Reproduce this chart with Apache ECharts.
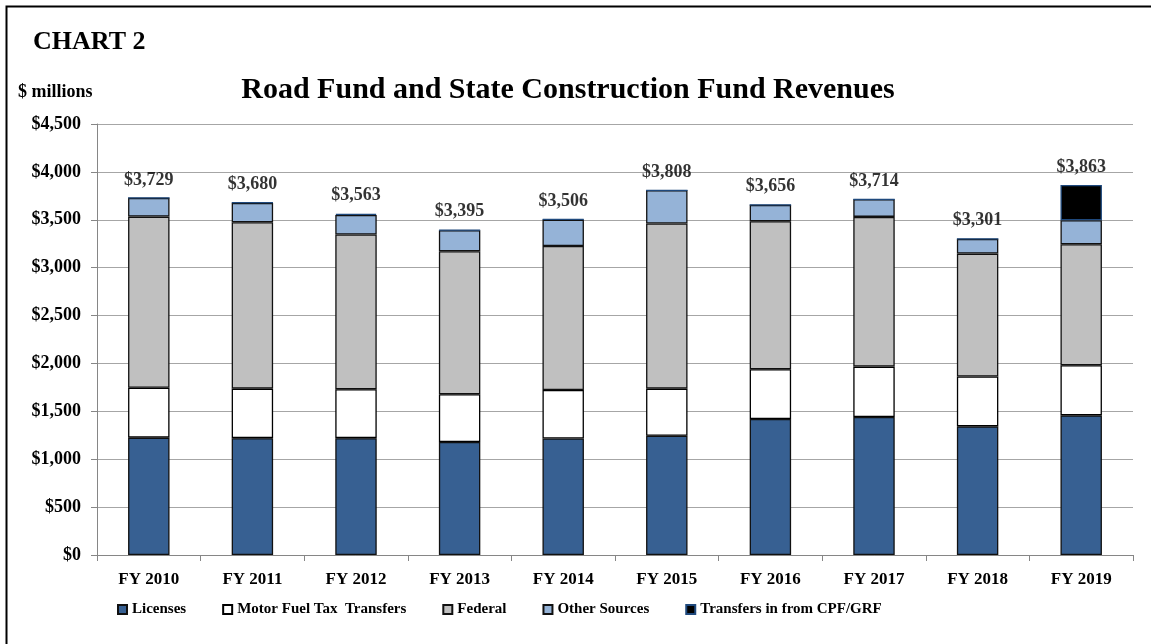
<!DOCTYPE html>
<html>
<head>
<meta charset="utf-8">
<script src="https://cdn.jsdelivr.net/npm/echarts@6/dist/echarts.min.js"></script>
<style>
  html, body { margin: 0; padding: 0; background: #fff; }
  #main { width: 1151px; height: 644px; }
</style>
</head>
<body>
<div id="main"></div>
<script>
// 数据 ($ millions)
var years = ['FY 2010', 'FY 2011', 'FY 2012', 'FY 2013', 'FY 2014', 'FY 2015', 'FY 2016', 'FY 2017', 'FY 2018', 'FY 2019'];
var licenses = [1225, 1220, 1220, 1180, 1217, 1245, 1420, 1441, 1343, 1458];
var motorFuel = [522, 517, 510, 498, 506, 492, 519, 526, 520, 523];
var federal = [1786, 1737, 1616, 1493, 1503, 1724, 1546, 1563, 1284, 1263];
var otherSources = [196, 203, 205, 220, 276, 347, 171, 184, 154, 251];
var transfersCpf = [0, 3, 12, 4, 4, 0, 0, 0, 0, 368];
var totals = [3729, 3680, 3563, 3395, 3506, 3808, 3656, 3714, 3301, 3863];

var font = 'Liberation Serif, Times New Roman, serif';

function money(v) {
    return '$' + String(v).replace(/\B(?=(\d{3})+(?!\d))/g, ',');
}

var myChart = echarts.init(document.getElementById('main'));

function stackBar(name, data, fill, border) {
    return {
        name: name,
        type: 'bar',
        stack: 'rev',
        barWidth: '40%',
        data: data,
        itemStyle: { color: fill, borderColor: border, borderWidth: 1.3 },
        emphasis: { disabled: true }
    };
}

var option = {
    animation: false,
    backgroundColor: '#fff',
    textStyle: { fontFamily: font },
    graphic: [
        {
            type: 'rect',
            left: 4, top: 4,
            shape: { width: 1170, height: 670 },
            style: { fill: 'none', stroke: '#000', lineWidth: 2 },
            silent: true
        },
        {
            type: 'text', left: 33, top: 29,
            style: { text: 'CHART 2', font: 'bold 26px ' + font, fill: '#000' }
        },
        {
            type: 'text', left: 18, top: 83,
            style: { text: '$ millions', font: 'bold 18px ' + font, fill: '#000' }
        }
    ],
    title: {
        text: 'Road Fund and State Construction Fund Revenues',
        left: 563,
        textAlign: 'center',
        top: 70,
        textStyle: { fontFamily: font, fontSize: 30, fontWeight: 'bold', color: '#000' }
    },
    legend: {
        left: 112,
        top: 597,
        icon: 'rect',
        itemWidth: 9,
        itemHeight: 9,
        itemGap: 36,
        textStyle: { fontFamily: font, fontSize: 15, fontWeight: 'bold', color: '#000' },
        data: ['Licenses', 'Motor Fuel Tax  Transfers', 'Federal', 'Other Sources', 'Transfers in from CPF/GRF']
    },
    grid: { left: 97, right: 18, top: 124, bottom: 89, containLabel: false },
    xAxis: {
        type: 'category',
        data: years,
        axisLine: { lineStyle: { color: '#868686', width: 1 } },
        axisTick: { show: true, length: 6, lineStyle: { color: '#868686' } },
        axisLabel: { margin: 16, fontFamily: font, fontSize: 17, fontWeight: 'bold', color: '#000' }
    },
    yAxis: {
        type: 'value',
        min: 0,
        max: 4500,
        interval: 500,
        axisLine: { show: true, lineStyle: { color: '#868686' } },
        axisTick: { show: true, length: 6, lineStyle: { color: '#868686' } },
        splitLine: { lineStyle: { color: '#A6A6A6', width: 1 } },
        axisLabel: {
            margin: 16,
            fontFamily: font, fontSize: 18, fontWeight: 'bold', color: '#000',
            formatter: money
        }
    },
    series: [
        stackBar('Licenses', licenses, '#376092', '#111'),
        stackBar('Motor Fuel Tax  Transfers', motorFuel, '#FFFFFF', '#000'),
        stackBar('Federal', federal, '#C0C0C0', '#111'),
        stackBar('Other Sources', otherSources, '#95B3D7', '#111'),
        stackBar('Transfers in from CPF/GRF', transfersCpf, '#000000', '#1F497D'),
        {
            name: 'total',
            type: 'scatter',
            data: totals,
            symbolSize: 0,
            silent: true,
            label: {
                show: true,
                position: 'top',
                distance: 9,
                fontFamily: font, fontSize: 18, fontWeight: 'bold', color: '#000',
                formatter: function (p) { return money(p.value); }
            }
        }
    ]
};

myChart.setOption(option);

window.onresize = function () {
    myChart.resize();
};
</script>
</body>
</html>
